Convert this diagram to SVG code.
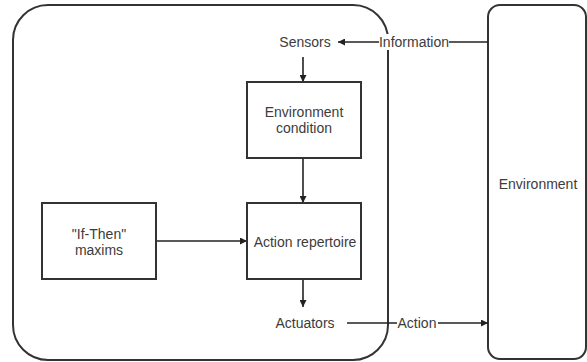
<svg xmlns="http://www.w3.org/2000/svg" width="587" height="362" viewBox="0 0 587 362">
<defs>
<marker id="arr" viewBox="0 0 10 10" refX="10" refY="5" markerWidth="7" markerHeight="7" markerUnits="userSpaceOnUse" orient="auto">
<path d="M0,0 L10,5 L0,10 z" fill="#222"/>
</marker>
<style>
.box{fill:#fff;stroke:#333;stroke-width:2}
.edge{fill:none;stroke:#222;stroke-width:1.6}
text{font-family:"Liberation Sans",Arial,sans-serif;font-size:14px;fill:#3c3c3c;text-anchor:middle;dominant-baseline:central}
.lbl-bg{fill:#fff}
</style>
</defs>
<rect width="587" height="362" fill="#fff"/>
<g id="agent"><rect class="box" x="13" y="5" width="375" height="355" rx="35" ry="35"/></g>
<g id="environment"><rect class="box" x="488" y="5" width="98" height="354" rx="12" ry="12"/><text x="538" y="184">Environment</text></g>
<g id="connectors">
<line class="edge" x1="488" y1="42" x2="338" y2="42" marker-end="url(#arr)"/>
<rect class="lbl-bg" x="379" y="34" width="70" height="16"/>
<text x="414" y="42">Information</text>
<line class="edge" x1="303" y1="57" x2="303" y2="82" marker-end="url(#arr)"/>
<line class="edge" x1="303" y1="158" x2="303" y2="203" marker-end="url(#arr)"/>
<line class="edge" x1="303" y1="279" x2="303" y2="307" marker-end="url(#arr)"/>
<line class="edge" x1="156" y1="241" x2="247" y2="241" marker-end="url(#arr)"/>
<line class="edge" x1="347" y1="323" x2="488" y2="323" marker-end="url(#arr)"/>
<rect class="lbl-bg" x="397" y="315" width="41" height="16"/>
<text x="417" y="323">Action</text>
</g>
<g id="sensors"><text x="305" y="42">Sensors</text></g>
<g id="env-condition"><rect class="box" x="247" y="82" width="114" height="76"/><text x="304" y="112">Environment</text><text x="304" y="128">condition</text></g>
<g id="action-repertoire"><rect class="box" x="247" y="203" width="114" height="76"/><text x="305" y="242">Action repertoire</text></g>
<g id="if-then"><rect class="box" x="42" y="203" width="114" height="76"/><text x="99" y="234">"If-Then"</text><text x="99" y="250">maxims</text></g>
<g id="actuators"><text x="305" y="323">Actuators</text></g>
</svg>
